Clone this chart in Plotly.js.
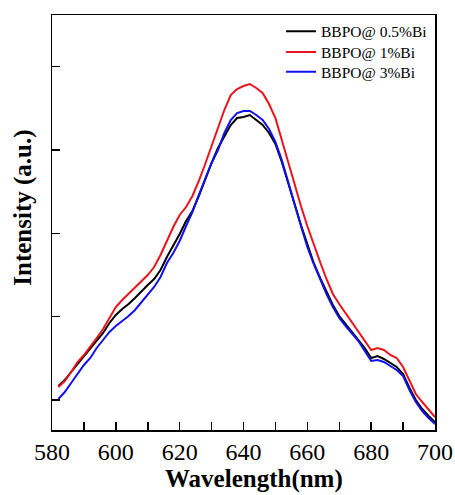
<!DOCTYPE html>
<html>
<head>
<meta charset="utf-8">
<script src="https://cdn.plot.ly/plotly-3.0.1.min.js"></script>
<style>html,body{margin:0;padding:0;background:#fff;}#chart{width:455px;height:495px;}</style>
</head>
<body>
<div id="chart"></div>
<script>
const wavelength = [582,584,586,588,590,592,594,596,598,600,602,604,606,608,610,612,614,616,618,620,622,624,626,628,630,632,634,636,638,640,642,644,646,648,650,652,654,656,658,660,662,664,666,668,670,672,674,676,678,680,682,684,686,688,690,692,694,696,698,700];
const bi05 = [1168,1240,1336,1432,1528,1624,1708,1804,1924,2020,2092,2152,2224,2308,2380,2452,2560,2716,2848,2992,3148,3268,3448,3652,3844,4024,4168,4300,4384,4396,4420,4360,4300,4204,4072,3856,3616,3352,3100,2860,2644,2464,2296,2140,2008,1912,1828,1732,1624,1504,1528,1492,1444,1396,1312,1144,1000,892,808,736];
const bi1 = [1156,1228,1336,1456,1540,1636,1744,1852,1984,2116,2200,2272,2344,2416,2500,2596,2740,2908,3076,3220,3316,3448,3628,3832,4048,4240,4480,4660,4732,4768,4792,4744,4684,4552,4384,4120,3856,3568,3328,3088,2860,2656,2452,2272,2152,2044,1936,1828,1708,1600,1624,1600,1540,1504,1396,1228,1072,976,892,796];
const bi3 = [1012,1096,1204,1312,1420,1504,1624,1720,1816,1888,1948,2008,2080,2176,2260,2356,2476,2644,2764,2908,3088,3256,3460,3652,3844,4000,4204,4360,4444,4468,4468,4420,4360,4252,4096,3880,3628,3352,3088,2836,2632,2440,2272,2116,1984,1888,1804,1708,1588,1468,1480,1456,1408,1360,1288,1120,976,868,784,712];
const seriesNames = ['BBPO@ 0.5%Bi','BBPO@ 1%Bi','BBPO@ 3%Bi'];
const seriesColors = ['#000000','#e8141c','#1010f0'];
const xTitle = 'Wavelength(nm)';
const yTitle = 'Intensity (a.u.)';

const serif = 'Liberation Serif, Times New Roman, serif';
const legendIds = ['legend','legend2','legend3'];
const data = [bi05, bi1, bi3].map((ys, i) => ({
  x: wavelength, y: ys, type: 'scatter', mode: 'lines', name: seriesNames[i],
  legend: legendIds[i],
  line: {color: seriesColors[i], width: 2}
}));

const legendRowY = [0.960, 0.910, 0.862];
function legendCfg(i) {
  return {x: 0.598, y: legendRowY[i], xanchor: 'left', yanchor: 'middle', bgcolor: 'rgba(0,0,0,0)',
          font: {family: serif, size: 15.5, color: '#000'}, itemwidth: 30};
}

const layout = {
  width: 455, height: 495,
  margin: {l: 52, r: 20, t: 15, b: 65},
  paper_bgcolor: '#fff', plot_bgcolor: '#fff',
  font: {family: serif, color: '#000'},
  showlegend: true,
  legend: legendCfg(0), legend2: legendCfg(1), legend3: legendCfg(2),
  xaxis: {
    range: [580, 700], tick0: 580, dtick: 20, ticks: 'inside', ticklen: 8, tickwidth: 1.5, tickcolor: '#000',
    minor: {dtick: 10, ticks: 'inside', ticklen: 8, tickwidth: 1.5, tickcolor: '#000'},
    showline: true, linecolor: '#000', linewidth: 1.5, mirror: true, showgrid: false, zeroline: false,
    tickfont: {family: serif, size: 24, color: '#000'}
  },
  yaxis: {
    range: [640, 5620], tick0: 1000, dtick: 1000, ticks: 'inside', ticklen: 8, tickwidth: 1.5, tickcolor: '#000',
    showticklabels: false,
    showline: true, linecolor: '#000', linewidth: 1.5, mirror: true, showgrid: false, zeroline: false
  },
  annotations: [
    {text: xTitle, xref: 'paper', yref: 'paper', x: 0.527, y: -0.118, xanchor: 'center', yanchor: 'middle',
     showarrow: false, font: {family: serif, size: 25, color: '#000', weight: 'bold'}},
    {text: yTitle, xref: 'paper', yref: 'paper', x: -0.078, y: 0.536, xanchor: 'center', yanchor: 'middle',
     textangle: -90, showarrow: false, font: {family: serif, size: 25, color: '#000', weight: 'bold'}}
  ]
};
Plotly.newPlot('chart', data, layout, {displayModeBar: false, staticPlot: true});
</script>
</body>
</html>
